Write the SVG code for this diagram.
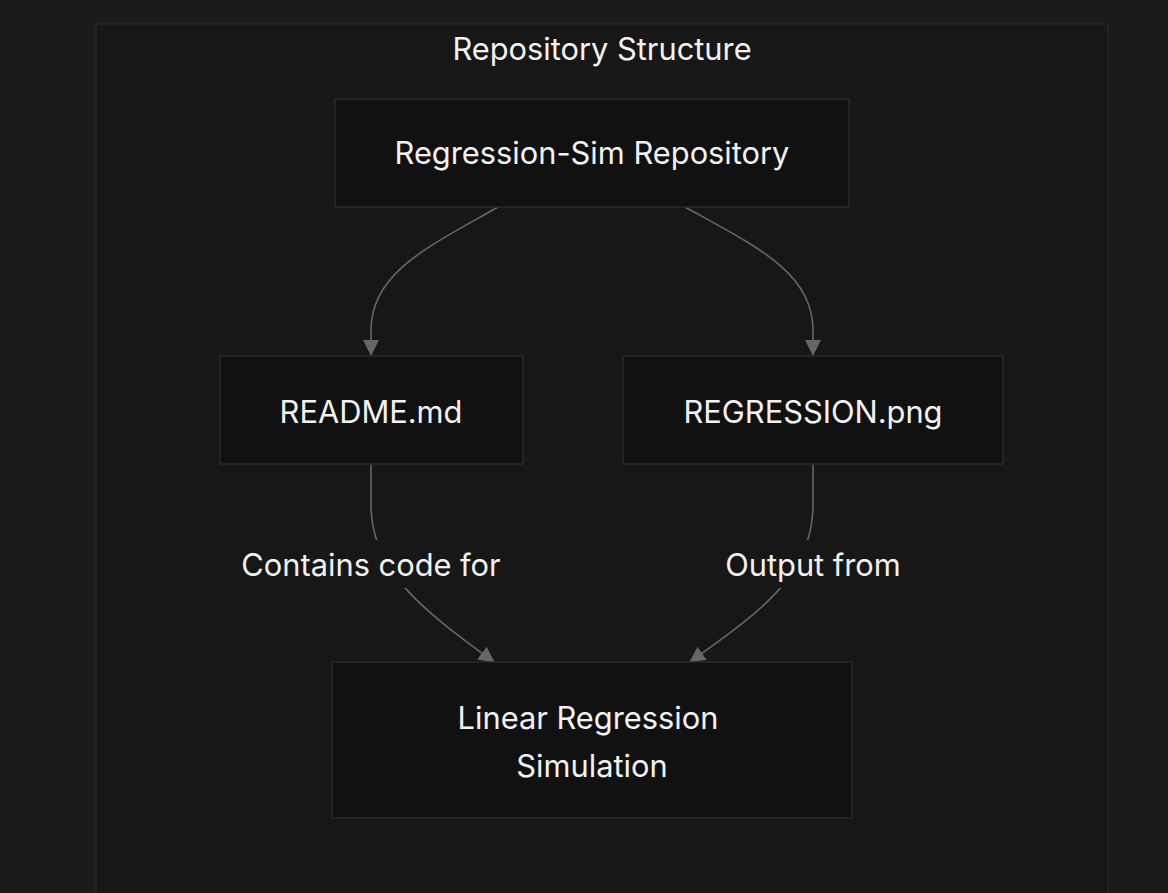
<svg xmlns="http://www.w3.org/2000/svg" width="1168" height="893" viewBox="0 0 1168 893">
<defs>
<style>
.node rect{fill:#111111;stroke:#2a2a2a;stroke-width:1.5}
.t{font-family:Inter,"Liberation Sans",sans-serif;fill:#f2f2f2;text-anchor:middle;font-size:30.8px}
.edge{fill:none;stroke:#666666;stroke-width:1.6}
.lbl{fill:#171717}
</style>
<marker id="arr" viewBox="0 0 16 16" refX="15" refY="8" markerWidth="16" markerHeight="16" markerUnits="userSpaceOnUse" orient="auto">
<path d="M0,0 L16,8 L0,16 z" fill="#666666"/>
</marker>
</defs>
<rect width="1168" height="893" fill="#1a1a1a"/>
<g id="cluster">
<rect x="96" y="24" width="1012" height="880" fill="#171717" stroke="#262626" stroke-width="1.5"/>
<text class="t" x="602" y="60">Repository Structure</text>
</g>
<g id="connectors">
<path class="edge" d="M498,207 C430,246 371,272 371,330 L371,355" marker-end="url(#arr)"/>
<path class="edge" d="M685,207 C755,246 813,272 813,330 L813,355" marker-end="url(#arr)"/>
<path class="edge" d="M371,464 L371,505 C371,570 420,608 494,662" marker-end="url(#arr)"/>
<path class="edge" d="M813,464 L813,505 C813,575 760,612 690,662" marker-end="url(#arr)"/>
<rect class="lbl" x="236" y="540" width="270" height="48"/>
<text class="t" x="371" y="576">Contains code for</text>
<rect class="lbl" x="718" y="540" width="190" height="48"/>
<text class="t" x="813" y="576">Output from</text>
</g>
<g id="n1" class="node">
<rect x="335" y="99" width="514" height="108"/>
<text class="t" x="592" y="164">Regression-Sim Repository</text>
</g>
<g id="n2" class="node">
<rect x="220" y="356" width="303" height="108"/>
<text class="t" x="371" y="423">README.md</text>
</g>
<g id="n3" class="node">
<rect x="623" y="356" width="380" height="108"/>
<text class="t" x="813" y="423">REGRESSION.png</text>
</g>
<g id="n4" class="node">
<rect x="332" y="662" width="520" height="156"/>
<text class="t" x="588" y="729">Linear Regression</text>
<text class="t" x="592" y="777">Simulation</text>
</g>
</svg>
